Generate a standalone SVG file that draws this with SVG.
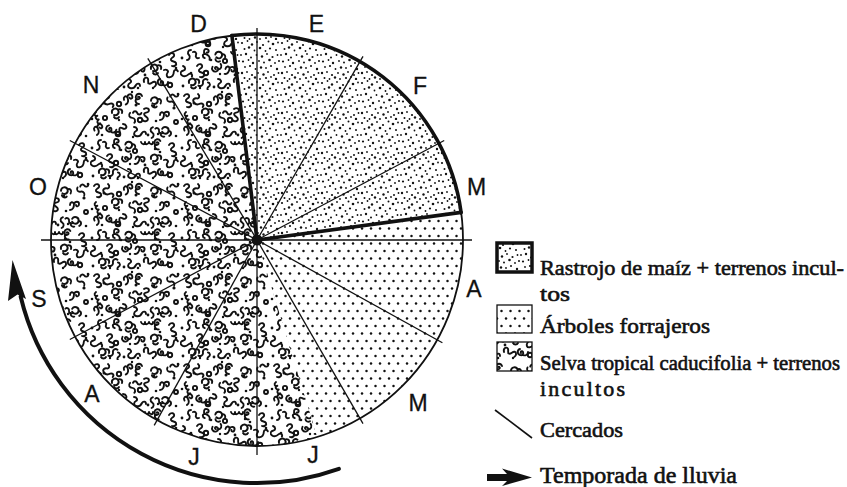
<svg xmlns="http://www.w3.org/2000/svg" xmlns:xlink="http://www.w3.org/1999/xlink" width="847" height="487" viewBox="0 0 847 487">
<style>
.month{font-family:"Liberation Sans",Arial,sans-serif;font-size:23px;fill:#111;stroke:#111;stroke-width:0.3;text-anchor:middle}
.leg{font-family:"Liberation Serif","Times New Roman",serif;font-size:22px;fill:#111;stroke:#111;stroke-width:0.6}
.fence{stroke:#111;stroke-width:1.3;fill:none}
.thick{stroke:#111;stroke-width:3.6;fill:none;stroke-linecap:round}
.sq{fill:none;stroke:#111;stroke-width:1.9;stroke-linecap:round;stroke-linejoin:round}
</style>
<defs>
<pattern id="pRastrojo" patternUnits="userSpaceOnUse" width="40" height="40">
<g fill="#111">
<circle cx="2" cy="3" r="1.1"/><circle cx="7.5" cy="1" r="0.9"/><circle cx="12" cy="4.5" r="1.2"/><circle cx="17" cy="2" r="0.9"/><circle cx="23" cy="5" r="1.1"/><circle cx="28.5" cy="1.5" r="1"/><circle cx="33" cy="4" r="1.3"/><circle cx="38" cy="2.5" r="0.9"/>
<circle cx="4.5" cy="9" r="1"/><circle cx="9" cy="7.5" r="1.2"/><circle cx="14.5" cy="10.5" r="0.9"/><circle cx="20" cy="8" r="1.3"/><circle cx="25.5" cy="11" r="0.9"/><circle cx="30" cy="8.5" r="1.1"/><circle cx="36" cy="10" r="1"/>
<circle cx="1" cy="15" r="0.9"/><circle cx="6" cy="14" r="1.2"/><circle cx="11" cy="17.5" r="1"/><circle cx="16.5" cy="15" r="0.9"/><circle cx="22" cy="16.5" r="1.2"/><circle cx="27" cy="14" r="0.9"/><circle cx="32.5" cy="17" r="1.1"/><circle cx="37.5" cy="15" r="0.9"/>
<circle cx="3" cy="21.5" r="1.1"/><circle cx="8.5" cy="20" r="0.9"/><circle cx="13" cy="23" r="1.2"/><circle cx="19" cy="21" r="0.9"/><circle cx="24" cy="22.5" r="1"/><circle cx="29.5" cy="20" r="1.3"/><circle cx="35" cy="23" r="0.9"/><circle cx="39" cy="21" r="1"/>
<circle cx="5" cy="27" r="0.9"/><circle cx="10" cy="26" r="1.1"/><circle cx="15.5" cy="29" r="0.9"/><circle cx="21" cy="27.5" r="1.2"/><circle cx="26" cy="28" r="0.9"/><circle cx="31" cy="26" r="1"/><circle cx="37" cy="29" r="1.2"/>
<circle cx="2" cy="33" r="1.2"/><circle cx="7" cy="32" r="0.9"/><circle cx="12" cy="35" r="1.1"/><circle cx="18" cy="33" r="0.9"/><circle cx="23.5" cy="34.5" r="1.2"/><circle cx="28" cy="32" r="0.9"/><circle cx="34" cy="35" r="1"/><circle cx="38.5" cy="33" r="0.9"/>
<circle cx="4.5" cy="38" r="1"/><circle cx="9.5" cy="39" r="0.9"/><circle cx="15" cy="37.5" r="1.2"/><circle cx="20" cy="39" r="0.9"/><circle cx="26" cy="38" r="1.1"/><circle cx="31" cy="37" r="0.9"/><circle cx="36" cy="39" r="1.2"/>
</g>
</pattern>
<pattern id="pArboles" patternUnits="userSpaceOnUse" width="9" height="15">
<circle cx="2" cy="3.5" r="1.25" fill="#111"/><circle cx="6.5" cy="11" r="1.25" fill="#111"/>
</pattern>
<path id="r1" d="M0,0 c2,-3 6,-2 5,1 c-1,2 -4,2 -3,4 c1,2 4,1 5,3 c1,2 -2,4 -4,3"/>
<path id="r2" d="M0,3 c0,-3 3,-4 4,-1 c1,-3 5,-3 5,0 c0,3 -3,3 -3,1 M4,2 c0,3 -1,6 -4,6"/>
<path id="r3" d="M2,0 c-3,1 -3,5 0,6 c2,1 4,-1 3,-3 c-1,-2 -3,0 -2,1 M5,6 c2,1 5,0 5,-3"/>
<path id="r4" d="M0,0 c3,0 4,3 2,4 c-2,1 -3,4 0,5 c3,1 5,-1 6,-3 c1,-2 4,-2 4,1"/>
<path id="r5" d="M0,4 c-1,-4 4,-6 6,-3 c2,3 -1,6 -4,5 M6,1 c2,-2 5,0 4,3 M2,8 c1,2 4,2 5,0"/>
<path id="r6" d="M0,0 c1,3 4,3 4,0 c0,3 3,3 4,0 c1,3 4,3 4,0"/>
<path id="r7" d="M3,0 c-3,0 -4,3 -2,5 c2,2 0,5 -2,5 M5,2 c2,-1 4,1 3,3 c-1,2 1,4 3,3"/>
<pattern id="pSelva" patternUnits="userSpaceOnUse" width="90" height="90">
<g class="sq">
<use xlink:href="#r1" transform="translate(4,6)"/><use xlink:href="#r4" transform="translate(18,4) rotate(40)"/><use xlink:href="#r2" transform="translate(33,7) rotate(-20)"/><use xlink:href="#r3" transform="translate(52,4) rotate(90)"/><use xlink:href="#r5" transform="translate(62,7) rotate(15)"/><use xlink:href="#r7" transform="translate(76,10) rotate(-60)"/>
<use xlink:href="#r6" transform="translate(6,22) rotate(70)"/><use xlink:href="#r5" transform="translate(22,19)"/><use xlink:href="#r7" transform="translate(38,25) rotate(-45)"/><use xlink:href="#r1" transform="translate(54,19) rotate(20)"/><use xlink:href="#r2" transform="translate(70,22)"/>
<use xlink:href="#r2" transform="translate(3,38) rotate(-30)"/><use xlink:href="#r3" transform="translate(17,35) rotate(10)"/><use xlink:href="#r1" transform="translate(33,34) rotate(60)"/><use xlink:href="#r4" transform="translate(44,37)"/><use xlink:href="#r7" transform="translate(60,38) rotate(-15)"/><use xlink:href="#r5" transform="translate(75,36) rotate(45)"/>
<use xlink:href="#r7" transform="translate(8,50)"/><use xlink:href="#r2" transform="translate(22,57) rotate(-70)"/><use xlink:href="#r5" transform="translate(37,51) rotate(25)"/><use xlink:href="#r6" transform="translate(51,52)"/><use xlink:href="#r3" transform="translate(70,49) rotate(80)"/><use xlink:href="#r1" transform="translate(79,55)"/>
<use xlink:href="#r4" transform="translate(3,66) rotate(20)"/><use xlink:href="#r1" transform="translate(17,66)"/><use xlink:href="#r3" transform="translate(31,68) rotate(-40)"/><use xlink:href="#r2" transform="translate(46,66) rotate(10)"/><use xlink:href="#r5" transform="translate(61,65)"/><use xlink:href="#r4" transform="translate(74,70) rotate(-25)"/>
<use xlink:href="#r5" transform="translate(9,79)"/><use xlink:href="#r7" transform="translate(25,78) rotate(35)"/><use xlink:href="#r4" transform="translate(38,79)"/><use xlink:href="#r1" transform="translate(54,82) rotate(-50)"/><use xlink:href="#r3" transform="translate(68,79)"/>
<circle cx="29" cy="14" r="2.2"/><circle cx="50" cy="30" r="2.2"/><circle cx="28" cy="44" r="2.3"/><circle cx="45" cy="61" r="2.1"/><circle cx="26" cy="73" r="2.2"/><circle cx="80" cy="85" r="2.2"/><circle cx="15" cy="28" r="2.1"/><circle cx="86" cy="32" r="2"/>
</g>
<g fill="#111">
<circle cx="14" cy="13" r="1.5"/><circle cx="46" cy="15" r="1.5"/><circle cx="64" cy="16" r="1.3"/><circle cx="84" cy="18" r="1.6"/><circle cx="2" cy="29" r="1.3"/><circle cx="29" cy="30" r="1.2"/><circle cx="66" cy="31" r="1.3"/><circle cx="12" cy="45" r="1.3"/><circle cx="43" cy="47" r="1.2"/><circle cx="58" cy="45" r="1.4"/><circle cx="68" cy="44" r="1.2"/><circle cx="86" cy="46" r="1.3"/><circle cx="2" cy="58" r="1.4"/><circle cx="31" cy="60" r="1.3"/><circle cx="65" cy="59" r="1.2"/><circle cx="11" cy="73" r="1.3"/><circle cx="40" cy="74" r="1.2"/><circle cx="55" cy="75" r="1.4"/><circle cx="70" cy="62" r="1.3"/><circle cx="86" cy="68" r="1.3"/><circle cx="3" cy="86" r="1.4"/><circle cx="20" cy="88" r="1.2"/><circle cx="34" cy="87" r="1.4"/><circle cx="48" cy="88" r="1.3"/><circle cx="63" cy="88" r="1.2"/><circle cx="88" cy="4" r="1.3"/><circle cx="42" cy="2" r="1.2"/>
</g>
</pattern>
</defs>
<rect width="847" height="487" fill="#fff"/>

<g id="sectors">
<path id="sector-rastrojo" d="M257,240 L231.9,35.5 A206,206 0 0 1 461.1,212.4 Z" fill="url(#pRastrojo)"/>
<path id="sector-arboles" d="M257,240 L461.1,212.4 A206,206 0 0 1 317.2,437 Z" fill="url(#pArboles)"/>
<path id="sector-selva" d="M257,240 L317.2,437 A206,206 0 1 1 231.9,35.5 Z" fill="url(#pSelva)"/>
<circle cx="257" cy="240" r="206" fill="none" stroke="#111" stroke-width="1.8"/>
<path class="thick" d="M231.9,35.5 A206,206 0 0 1 461.1,212.4"/>
</g>

<g id="connectors">
<line class="fence" x1="257" y1="28" x2="257" y2="455"/>
<line class="fence" x1="41" y1="240" x2="472" y2="240"/>
<line class="fence" x1="257" y1="240" x2="363" y2="56.4"/>
<line class="fence" x1="257" y1="240" x2="444.2" y2="140.5"/>
<line class="fence" x1="257" y1="240" x2="442.4" y2="342.8"/>
<line class="fence" x1="257" y1="240" x2="363" y2="423.6"/>
<line class="fence" x1="257" y1="240" x2="154.2" y2="425.4"/>
<line class="fence" x1="257" y1="240" x2="69.8" y2="339.5"/>
<line class="fence" x1="257" y1="240" x2="69.8" y2="140.5"/>
<line class="fence" x1="257" y1="240" x2="147.8" y2="58.3"/>
<line class="thick" x1="257" y1="240" x2="231.9" y2="35.5"/>
<line class="thick" x1="257" y1="240" x2="461.1" y2="212.4"/>
<circle cx="257" cy="240" r="5.5" fill="#111"/>
</g>

<g id="rain-arrow">
<path d="M338.9,468.8 A243,243 0 0 1 20.7,296.7" fill="none" stroke="#111" stroke-width="4" stroke-linecap="round"/>
<path d="M12.5,260 L26,299 L17.5,294.5 L8,301 Z" fill="#111"/>
</g>

<g id="months">
<text class="month" x="198.5" y="32">D</text>
<text class="month" x="316.5" y="32">E</text>
<text class="month" x="420" y="94">F</text>
<text class="month" x="476.5" y="195">M</text>
<text class="month" x="474" y="297">A</text>
<text class="month" x="418" y="411">M</text>
<text class="month" x="313" y="463">J</text>
<text class="month" x="194" y="465">J</text>
<text class="month" x="92" y="402">A</text>
<text class="month" x="39" y="307">S</text>
<text class="month" x="38" y="195">O</text>
<text class="month" x="91" y="93">N</text>
</g>

<g id="legend-rastrojo">
<rect x="497" y="243" width="35" height="29" fill="url(#pRastrojo)" stroke="#111" stroke-width="3.5"/>
<text class="leg" x="540" y="275" textLength="304" lengthAdjust="spacingAndGlyphs">Rastrojo de maíz + terrenos incul-</text>
<text class="leg" x="540" y="301" textLength="30" lengthAdjust="spacingAndGlyphs">tos</text>
</g>
<g id="legend-arboles">
<rect x="497" y="305" width="35" height="28" fill="url(#pArboles)" stroke="#111" stroke-width="1.3"/>
<text class="leg" x="540" y="333" textLength="170" lengthAdjust="spacingAndGlyphs">Árboles forrajeros</text>
</g>
<g id="legend-selva">
<rect x="497" y="342" width="35" height="29" fill="url(#pSelva)" stroke="#111" stroke-width="1.3"/>
<text class="leg" x="540" y="370" style="font-size:21px" textLength="300" lengthAdjust="spacingAndGlyphs">Selva tropical caducifolia + terrenos</text>
<text class="leg" x="540" y="396" textLength="85" lengthAdjust="spacing">incultos</text>
</g>
<g id="legend-cercados">
<line x1="495" y1="410" x2="532" y2="438" stroke="#111" stroke-width="1.6"/>
<text class="leg" x="540" y="437" textLength="83" lengthAdjust="spacingAndGlyphs">Cercados</text>
</g>
<g id="legend-lluvia">
<path d="M487,474 L507,474 L502,468.5 L532,477.5 L502,486 L507,481 L487,481 Z" fill="#111"/>
<text class="leg" x="540" y="483" style="font-size:23px" textLength="197" lengthAdjust="spacingAndGlyphs">Temporada de lluvia</text>
</g>
</svg>
